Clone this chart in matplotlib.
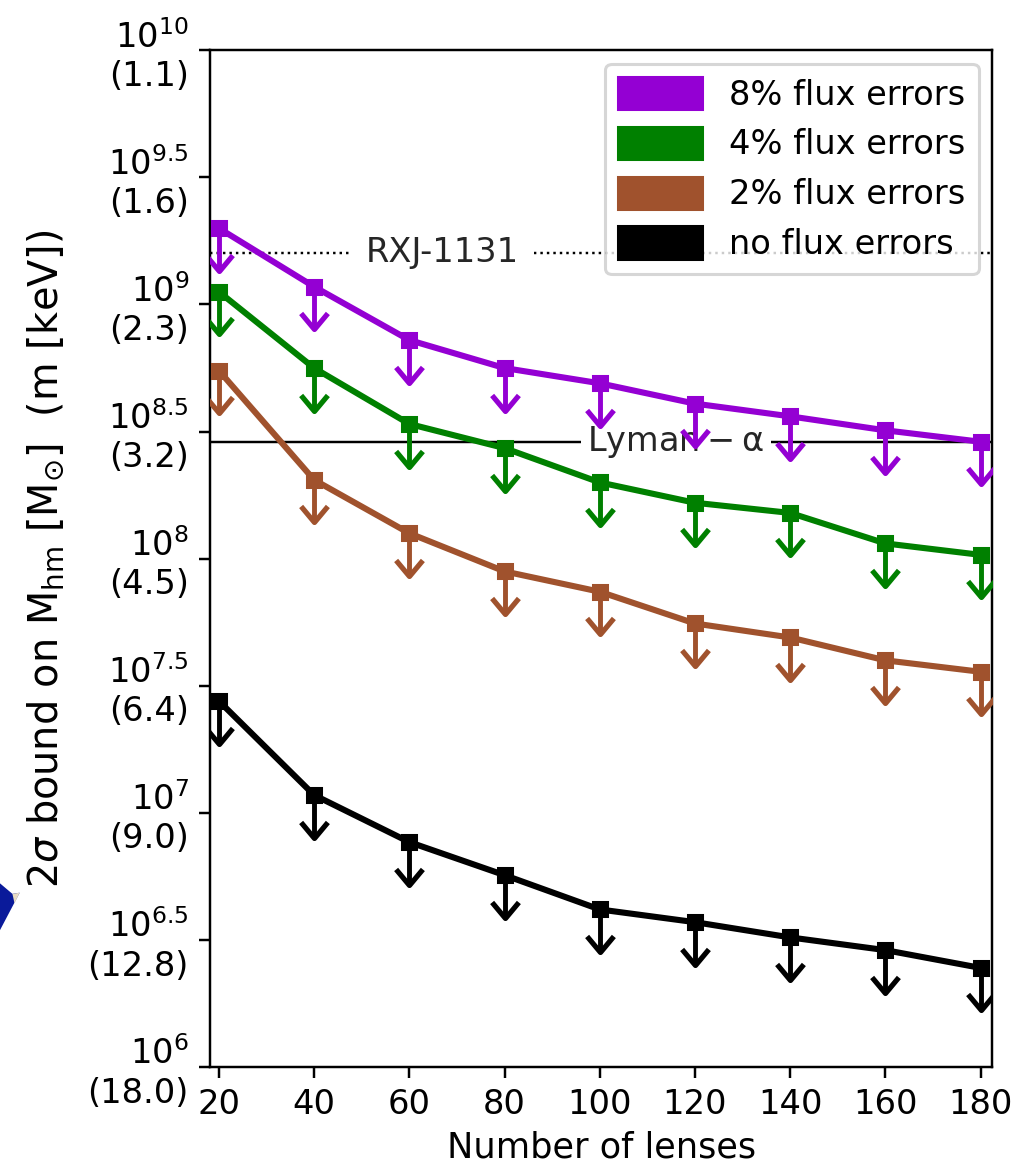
import numpy as np
import matplotlib.pyplot as plt
from matplotlib.patches import Patch, Polygon
from matplotlib.path import Path
from matplotlib.markers import MarkerStyle

# Number of lenses in each mock sample
n_lenses = [20, 40, 60, 80, 100, 120, 140, 160, 180]

# 2 sigma upper bounds on the half-mode mass (log10 M_sun)
log_m_8pct = [9.30, 9.07, 8.86, 8.75, 8.69, 8.61, 8.56, 8.505, 8.46]
log_m_4pct = [9.05, 8.75, 8.53, 8.435, 8.30, 8.22, 8.18, 8.06, 8.015]
log_m_2pct = [8.74, 8.31, 8.10, 7.95, 7.87, 7.745, 7.69, 7.60, 7.555]
log_m_none = [7.44, 7.07, 6.885, 6.755, 6.62, 6.57, 6.51, 6.46, 6.39]

series_labels = ['8% flux errors', '4% flux errors', '2% flux errors', 'no flux errors']
series_colors = ['darkviolet', 'green', 'sienna', 'black']

# Existing constraints drawn as horizontal lines
rxj_bound = 1.6e9
lyman_bound = 2.88e8

# y ticks: log10 mass and the matching thermal relic mass in keV
tick_exponents = [6, 6.5, 7, 7.5, 8, 8.5, 9, 9.5, 10]
tick_kev = ['18.0', '12.8', '9.0', '6.4', '4.5', '3.2', '2.3', '1.6', '1.1']

plt.rcParams['font.size'] = 11
fig = plt.figure(figsize=(1036 / 220, 1170 / 220), dpi=220)
ax = fig.add_axes([0.203, 0.088, 0.755, 0.869])

# open "v" arrowhead with its tip at the end of the bar
arrow_head = MarkerStyle(Path([[-1, 1.2], [0, 0], [1, 1.2]],
                              [Path.MOVETO, Path.LINETO, Path.LINETO]))

all_series = [log_m_8pct, log_m_4pct, log_m_2pct, log_m_none]
for logm, color in zip(all_series, series_colors):
    m = 10 ** np.array(logm)
    eb = ax.errorbar(n_lenses, m, yerr=0.32 * m, uplims=True, color=color,
                     marker='s', ms=4.5, lw=2, elinewidth=1.6, capsize=0,
                     zorder=3)
    for cap in eb[1]:
        cap.set_marker(arrow_head)
        cap.set_markersize(10.5)
        cap.set_markerfacecolor('none')
        cap.set_markeredgewidth(1.7)

# reference lines with their labels sitting on top
ax.axhline(rxj_bound, color='black', ls=':', lw=0.8, zorder=1)
ax.text(67, rxj_bound, 'RXJ-1131', ha='center', va='center', zorder=1.5,
        color='0.15', bbox=dict(fc='white', ec='none', pad=5))
ax.axhline(lyman_bound, color='black', ls='-', lw=0.8, zorder=1)
ax.text(116, lyman_bound, r'$\mathrm{Lyman-\alpha}$', ha='center', va='center',
        zorder=1.5, color='0.15', bbox=dict(fc='white', ec='none', pad=2))

ax.set_yscale('log')
ax.set_ylim(1e6, 1e10)
ax.set_xlim(18.2, 182.5)
ax.set_xticks(n_lenses)
ax.set_yticks([10 ** e for e in tick_exponents])
ax.set_yticklabels([r'$10^{%g}$' % e + '\n(' + k + ')'
                    for e, k in zip(tick_exponents, tick_kev)])
ax.yaxis.set_minor_locator(plt.NullLocator())

ax.set_xlabel('Number of lenses', fontsize=11.5, labelpad=3)
ax.set_ylabel(r'$2\sigma$ bound on $\mathrm{M_{hm}}$ $[\mathrm{M_{\odot}}]$  (m [keV])',
              fontsize=13, labelpad=7)

handles = [Patch(color=c) for c in series_colors]
ax.legend(handles, series_labels, loc='upper right', handlelength=2.5,
          handleheight=1.1, labelspacing=0.45, borderaxespad=0.4)

# slide decoration peeking in at the left edge
fig.patches.append(Polygon([[0, 0.245], [0.012, 0.236], [0.019, 0.237], [0.0, 0.205]],
                           closed=True, transform=fig.transFigure,
                           facecolor='#0a1a9a', edgecolor='none'))
fig.patches.append(Polygon([[0.012, 0.236], [0.019, 0.237], [0.014, 0.228]],
                           closed=True, transform=fig.transFigure,
                           facecolor='#e8dcc4', edgecolor='none'))

fig.savefig('out.png', dpi=220)
